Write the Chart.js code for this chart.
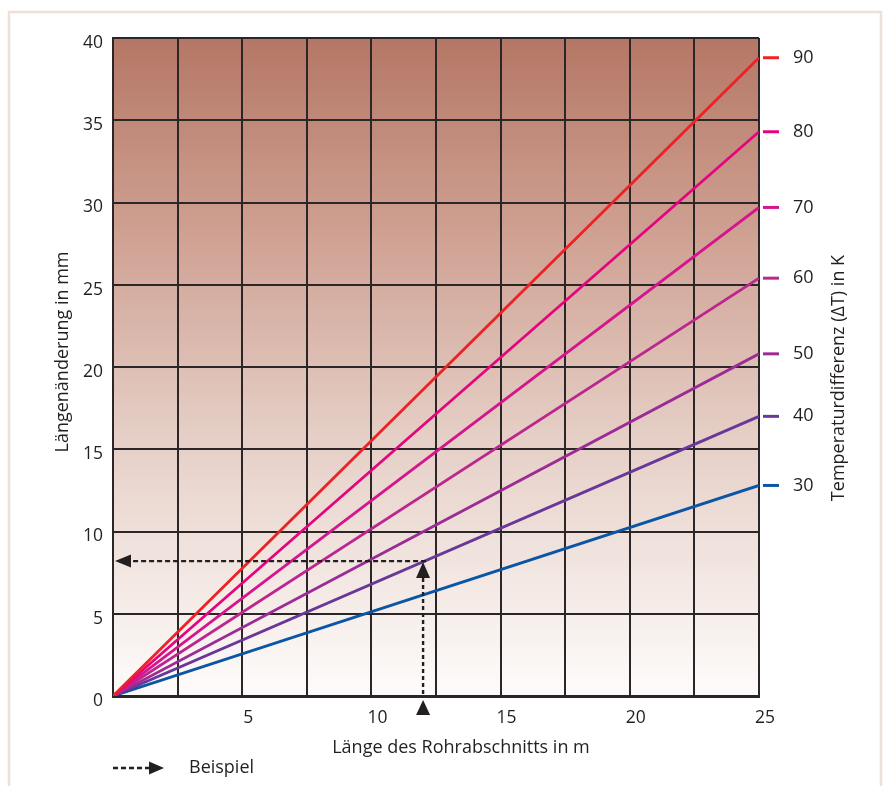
<!DOCTYPE html>
<html>
<head>
<meta charset="utf-8">
<script src="https://cdn.jsdelivr.net/npm/chart.js@4/dist/chart.umd.min.js"></script>
<style>
    body { margin: 0; background: #ffffff; }
    #wrap { width: 885px; height: 786px; position: relative; }
</style>
</head>
<body>
<div id="wrap"><canvas id="expansionChart"></canvas></div>
<script>
// Chart data
const lengthM = [0, 25];
const tempDiffs = [90, 80, 70, 60, 50, 40, 30];
const change90 = [0, 38.8];
const change80 = [0, 34.3];
const change70 = [0, 29.7];
const change60 = [0, 25.4];
const change50 = [0, 20.8];
const change40 = [0, 17.0];
const change30 = [0, 12.8];
const seriesValues = [change90, change80, change70, change60, change50, change40, change30];

const lineColors = [
    '#ec2227',
    '#e6037f',
    '#d5158d',
    '#bb268f',
    '#9c2c95',
    '#693797',
    '#0a55a4'
];

// Beispiel: 12 m Rohr bei 40 K
const exampleLength = 12;
const exampleChange = 8.2;

const textColor = '#231f20';
const gridColor = '#2b2627';
const fontFamily = "'Open Sans', 'Noto Sans', sans-serif";

const datasets = seriesValues.map((vals, i) => ({
    label: tempDiffs[i] + ' K',
    data: vals.map((v, j) => ({ x: lengthM[j], y: v })),
    borderColor: lineColors[i],
    borderWidth: 2.8,
    pointRadius: 0,
    fill: false
}));

function arrowHead(ctx, tipX, tipY, dir, len, half) {
    ctx.beginPath();
    if (dir === 'left') {
        ctx.moveTo(tipX, tipY);
        ctx.lineTo(tipX + len, tipY - half);
        ctx.lineTo(tipX + len, tipY + half);
    } else if (dir === 'right') {
        ctx.moveTo(tipX, tipY);
        ctx.lineTo(tipX - len, tipY - half);
        ctx.lineTo(tipX - len, tipY + half);
    } else {
        ctx.moveTo(tipX, tipY);
        ctx.lineTo(tipX - half, tipY + len);
        ctx.lineTo(tipX + half, tipY + len);
    }
    ctx.closePath();
    ctx.fill();
}

const decorPlugin = {
    id: 'decor',
    beforeDraw(chart) {
        const { ctx, chartArea: a } = chart;
        ctx.save();
        // outer frame
        ctx.strokeStyle = '#f0dfd8';
        ctx.lineWidth = 2.5;
        ctx.strokeRect(9, 12, 872, 820);
        // plot background
        const g = ctx.createLinearGradient(0, a.top, 0, a.bottom);
        g.addColorStop(0, '#b57765');
        g.addColorStop(0.3, '#cfa193');
        g.addColorStop(0.6, '#e5cec5');
        g.addColorStop(1, '#fefcfb');
        ctx.fillStyle = g;
        ctx.fillRect(a.left, a.top, a.right - a.left, a.bottom - a.top);
        ctx.restore();
    },
    afterDatasetsDraw(chart) {
        const { ctx, chartArea: a, scales } = chart;
        const xs = scales.x, ys = scales.y;
        const px = xs.getPixelForValue(exampleLength);
        const py = ys.getPixelForValue(exampleChange);
        ctx.save();
        ctx.strokeStyle = textColor;
        ctx.fillStyle = textColor;
        ctx.lineWidth = 2.4;
        // horizontal example line
        ctx.setLineDash([5, 3]);
        ctx.beginPath();
        ctx.moveTo(px + 3, py);
        ctx.lineTo(a.left + 16, py);
        ctx.stroke();
        // vertical example line
        ctx.setLineDash([4, 3]);
        ctx.beginPath();
        ctx.moveTo(px, a.bottom - 2);
        ctx.lineTo(px, py + 14);
        ctx.stroke();
        ctx.setLineDash([]);
        arrowHead(ctx, a.left + 2, py, 'left', 16, 6.5);
        arrowHead(ctx, px, py + 1, 'up', 16, 7);
        arrowHead(ctx, px, a.bottom + 4, 'up', 15, 7);

        // legend: Beispiel
        const ly = 768;
        ctx.lineWidth = 2.4;
        ctx.setLineDash([5, 3]);
        ctx.beginPath();
        ctx.moveTo(113, ly);
        ctx.lineTo(151, ly);
        ctx.stroke();
        ctx.setLineDash([]);
        arrowHead(ctx, 164, ly, 'right', 15, 6.5);
        ctx.font = '18px ' + fontFamily;
        ctx.textAlign = 'left';
        ctx.textBaseline = 'middle';
        ctx.fillText('Beispiel', 189, ly);

        // right side: temperature difference marks
        seriesValues.forEach((vals, i) => {
            const y = ys.getPixelForValue(vals[vals.length - 1]);
            ctx.strokeStyle = lineColors[i];
            ctx.lineWidth = 3;
            ctx.beginPath();
            ctx.moveTo(a.right + 4, y);
            ctx.lineTo(a.right + 20, y);
            ctx.stroke();
            ctx.fillStyle = textColor;
            ctx.fillText(String(tempDiffs[i]), 793, y);
        });

        // axis titles
        ctx.fillStyle = textColor;
        ctx.textAlign = 'center';
        ctx.fillText('Länge des Rohrabschnitts in m', 461, 748);

        ctx.translate(63, 352);
        ctx.rotate(-Math.PI / 2);
        ctx.fillText('Längenänderung in mm', 0, 0);
        ctx.setTransform(1, 0, 0, 1, 0, 0);

        ctx.translate(839, 378);
        ctx.rotate(-Math.PI / 2);
        ctx.fillText('Temperaturdifferenz (\u0394T) in K', 0, 0);
        ctx.restore();
    }
};

new Chart(document.getElementById('expansionChart'), {
    type: 'line',
    data: { datasets: datasets },
    options: {
        responsive: true,
        maintainAspectRatio: false,
        animation: false,
        layout: { padding: { left: 0, top: 38, right: 126, bottom: 0 } },
        plugins: {
            legend: { display: false },
            tooltip: { enabled: false }
        },
        scales: {
            x: {
                type: 'linear',
                min: 0,
                max: 25,
                afterFit: scale => { scale.height = 90; },
                grid: { color: gridColor, lineWidth: 2, drawTicks: false },
                border: { color: gridColor, width: 3 },
                ticks: {
                    stepSize: 2.5,
                    autoSkip: false,
                    maxRotation: 0,
                    padding: 12,
                    labelOffset: 6,
                    color: textColor,
                    font: { family: fontFamily, size: 17.5 },
                    callback: v => (v > 0 && v % 5 === 0) ? v : ''
                }
            },
            y: {
                min: 0,
                max: 40,
                afterFit: scale => { scale.width = 113; },
                grid: { color: gridColor, lineWidth: 2, drawTicks: false },
                border: { color: gridColor, width: 2 },
                ticks: {
                    stepSize: 5,
                    padding: 10,
                    labelOffset: 5,
                    color: textColor,
                    font: { family: fontFamily, size: 17.5 }
                }
            }
        }
    },
    plugins: [decorPlugin]
});
</script>
</body>
</html>
